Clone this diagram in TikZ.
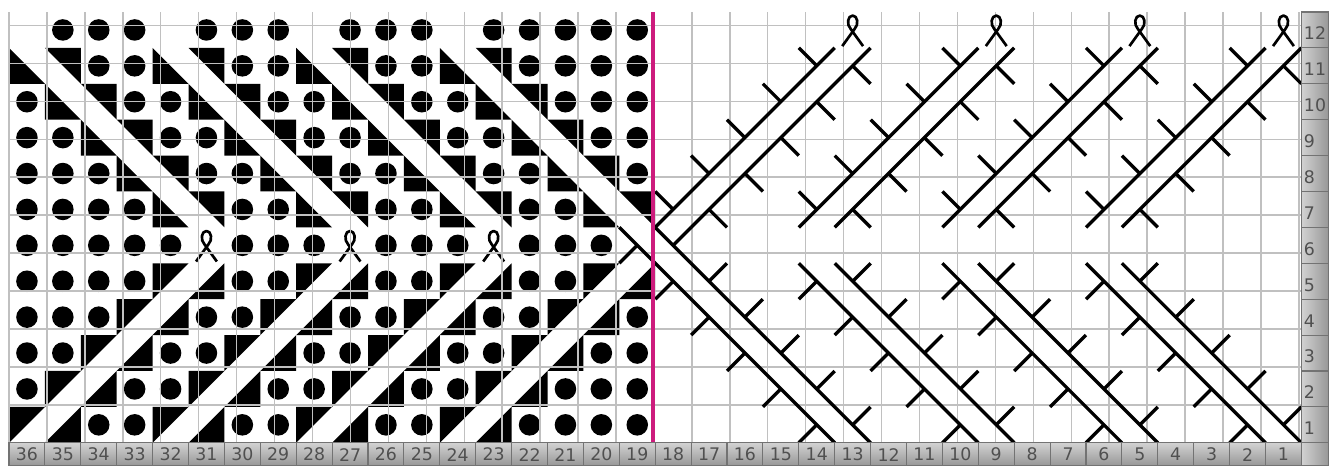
\documentclass[tikz,border=0pt]{standalone}
\usepackage{fontspec}
\setmainfont{DejaVu Sans}

\definecolor{gridgray}{RGB}{192,192,192}
\definecolor{numlight}{RGB}{210,210,210}
\definecolor{numdark}{RGB}{150,150,150}
\definecolor{numedge}{RGB}{115,115,115}
\definecolor{numink}{RGB}{80,80,80}
\definecolor{dividerpink}{RGB}{205,28,125}

\tikzset{every picture/.style={line width=0.75pt}}
\tikzset{
  bead/.style={fill=black},
  halfcell/.style={fill=black},
  gridline/.style={draw=gridgray, line width=1.1pt},
  cableline/.style={draw=black, line width=2.5pt},
  yarnloopline/.style={draw=black, line width=2pt, line join=round},
  numcell/.style={draw=numedge, line width=0.8pt},
  numtext/.style={text=numink, inner sep=0.75pt, font=\fontsize{13}{13}\selectfont},
  yarnloop/.pic={
    \draw[yarnloopline] (-0.29,-0.45) -- (0.05,0.02) .. controls (0.18,0.15) and (0.14,0.40) .. (0,0.40) .. controls (-0.14,0.40) and (-0.18,0.15) .. (-0.05,0.02) -- (0.29,-0.45);
  }
}

\begin{document}
\begin{tikzpicture}[x=26.925pt,y=26.925pt]
%set diagram frame: 1329 x 466
\useasboundingbox (-0.2507,-0.6462) rectangle (36.7688,12.3343);
\fill[white] (-0.2507,-0.6462) rectangle (36.7688,12.3343);

%Left half: beads and half squares
\foreach \col in {0,...,17}{
  \foreach \row in {1,...,12}{
    \pgfmathtruncatemacro{\dd}{\row>6 ? \col-11+\row : \col-\row+1}
    \pgfmathtruncatemacro{\mm}{mod(\dd+40,4)}
    \pgfmathtruncatemacro{\ib}{(\dd>-1) && (\dd<14)}
    \ifnum\row=12
      \pgfmathtruncatemacro{\gap}{(mod(\col,4)==0) && (\col<16)}
      \ifnum\gap=0 \fill[bead] (\col+0.5,\row-0.5) circle (0.3); \fi
    \else\ifnum\row=6
      \pgfmathtruncatemacro{\gap}{(\col==5)||(\col==9)||(\col==13)||(\col==17)}
      \ifnum\gap=0 \fill[bead] (\col+0.5,\row-0.5) circle (0.3); \fi
    \else\ifnum\ib=1
      \ifnum\mm=0
        \ifnum\row>6
          \fill[halfcell] (\col,\row) -- (\col,\row-1) -- (\col+1,\row-1) -- cycle;
        \else
          \fill[halfcell] (\col,\row) -- (\col+1,\row) -- (\col,\row-1) -- cycle;
        \fi
      \else\ifnum\mm=1
        \ifnum\row>6
          \fill[halfcell] (\col,\row) -- (\col+1,\row) -- (\col+1,\row-1) -- cycle;
        \else
          \fill[halfcell] (\col,\row-1) -- (\col+1,\row-1) -- (\col+1,\row) -- cycle;
        \fi
      \else
        \fill[bead] (\col+0.5,\row-0.5) circle (0.3);
      \fi\fi
    \else
      \fill[bead] (\col+0.5,\row-0.5) circle (0.3);
    \fi\fi\fi
  }
}
%Yarn loops, row 6
\foreach \col in {5,9,13}{
  \pic at (\col+0.5,5.5) {yarnloop};
}

%Grid
\draw[gridline] (0,0) grid (36,12);

%Right half: upper cables
\foreach \m in {0,...,3}{
  \draw[cableline] (18+4*\m,6) -- (23+4*\m,11);
  \draw[cableline] (19+4*\m,6) -- (24+4*\m,11);
  \foreach \row in {7,...,11}{
    \pgfmathtruncatemacro{\cc}{\row+11+4*\m}
    \draw[cableline] (\cc,\row) -- (\cc+0.5,\row-0.5);
    \draw[cableline] (\cc+1.5,\row-0.5) -- (\cc+2,\row-1);
  }
  \pic at (23.5+4*\m,11.5) {yarnloop};
}
%Right half: lower cables
\foreach \m in {0,...,3}{
  \draw[cableline] (18+4*\m,5) -- (23+4*\m,0);
  \draw[cableline] (19+4*\m,5) -- (24+4*\m,0);
  \foreach \row in {1,...,5}{
    \pgfmathtruncatemacro{\cc}{23-\row+4*\m}
    \draw[cableline] (\cc+0.5,\row-0.5) -- (\cc,\row-1);
    \draw[cableline] (\cc+1.5,\row-0.5) -- (\cc+2,\row);
  }
}
%Crossing, row 6
\draw[cableline] (17,6) -- (18,5);
\draw[cableline] (18,6) -- (19,5);
\draw[cableline] (17.5,5.5) -- (17,5);
\draw[cableline] (18.5,5.5) -- (19,6);

%Divider
\draw[draw=dividerpink, line width=2.8pt] (17.94,0) -- (17.94,12);

%Stitch numbers
\foreach \col in {0,...,35}{
  \pgfmathtruncatemacro{\num}{36-\col}
  \draw[numcell, top color=numlight, bottom color=numdark] (\col,-0.6462) rectangle (\col+1,0);
  % Text Node
  \node (n\num) [numtext] at (\col+0.5,-0.33) {\num};
}
%Row numbers
\foreach \row in {1,...,12}{
  \draw[numcell, left color=numlight, right color=numdark] (36,\row-1) rectangle (36.7688,\row);
  % Text Node
  \node (r\row) [numtext, anchor=west] at (36.03,\row-0.6) {\row};
}
\draw[numcell, left color=numlight, right color=numdark] (36,-0.6462) rectangle (36.7688,0);

\end{tikzpicture}
\end{document}
